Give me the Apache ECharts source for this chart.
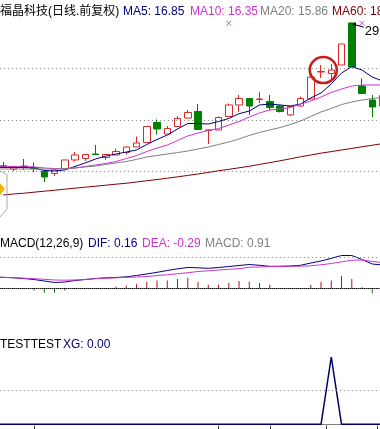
<!DOCTYPE html>
<html><head><meta charset="utf-8">
<script src="https://cdn.jsdelivr.net/npm/echarts@6/dist/echarts.min.js"></script>
<style>html,body{margin:0;padding:0;background:#fff;overflow:hidden}#c{width:380px;height:429px}</style>
</head><body><div id="c"></div>
<script>
// ---- data (index 0 is the bar just left of the window) ----
const categories = ['1','2','3','4','5','6','7','8','9','10','11','12','13','14','15','16','17','18','19','20',
  '21','22','23','24','25','26','27','28','29','30','31','32','33','34','35','36','37','38','39'];
// [open, close, low, high]
const candles = [
  [15.45,15.50,15.30,15.70],[15.55,15.50,15.34,15.92],[15.24,15.49,15.05,15.52],[15.53,15.44,15.15,16.21],
  [15.39,15.29,14.95,15.87],[15.00,14.47,13.98,15.15],[14.81,15.15,14.56,15.19],[15.29,16.12,15.29,16.12],
  [16.12,16.60,15.97,16.89],[16.26,16.65,16.02,16.70],[16.70,16.65,16.60,17.57],[16.36,16.65,16.12,16.65],
  [16.60,16.94,16.60,17.23],[16.84,17.38,16.65,17.43],[17.38,17.77,17.38,18.40],[17.82,19.37,17.82,19.37],
  [19.76,19.13,18.59,20.05],[18.64,19.17,18.64,19.42],[19.37,20.15,19.37,20.39],[20.19,20.73,20.15,20.97],
  [20.83,19.08,19.08,21.55],[18.98,19.03,17.67,19.08],[19.03,20.24,19.03,20.34],[20.34,21.46,20.34,21.60],
  [21.46,22.09,20.78,22.43],[22.09,21.36,20.49,22.14],[21.99,22.04,21.65,22.72],[21.80,21.21,20.97,22.43],
  [21.36,20.83,20.73,21.46],[20.49,21.31,20.39,21.31],[21.36,22.09,21.31,22.28],[22.04,24.17,21.99,24.22],
  [24.66,24.71,24.08,25.34],[24.51,24.85,23.79,25.44],[25.34,27.38,25.34,27.38],[29.42,25.15,25.15,29.45],
  [23.30,22.57,22.52,24.03],[21.94,21.26,20.29,22.43],[21.36,22.38,21.31,22.62]
];
const ma5 = [15.39,15.39,15.39,15.39,15.34,15.10,15.05,15.15,15.49,15.83,16.21,16.50,16.70,16.89,17.09,17.62,
  18.11,18.54,19.13,19.66,19.66,19.61,19.85,20.15,20.61,20.87,21.46,21.55,21.46,21.36,21.55,22.14,22.62,23.50,
  24.56,25.19,24.85,24.17,23.79];
const ma10 = [15.49,15.49,15.49,15.49,15.44,15.34,15.29,15.24,15.34,15.49,15.63,15.78,15.97,16.26,16.55,16.94,
  17.28,17.57,18.01,18.45,18.74,18.98,19.17,19.51,19.85,20.29,20.68,20.97,21.07,21.21,21.55,21.84,22.23,22.67,
  23.01,23.30,23.40,23.40,23.40];
const ma20 = [15.24,15.24,15.24,15.24,15.24,15.24,15.24,15.29,15.34,15.44,15.53,15.68,15.83,15.97,16.17,16.41,
  16.55,16.70,16.84,16.99,17.18,17.38,17.62,17.86,18.16,18.50,18.79,19.03,19.27,19.56,19.90,20.34,20.78,21.12,
  21.50,21.75,21.94,22.09,22.18];
const ma60 = [null,12.72,12.82,12.89,12.99,13.09,13.18,13.28,13.38,13.48,13.57,13.67,13.77,13.86,13.98,14.10,
  14.22,14.35,14.48,14.62,14.76,14.91,15.07,15.21,15.36,15.51,15.69,15.86,16.04,16.23,16.43,16.60,16.78,16.93,
  17.09,17.24,17.40,17.55,17.71];
const signalMarks = [null,null,null,null,null,null,null,null,null,null,null,null,null,null,null,null,null,null,
  null,null,null,null,null,29.39,null,null,null,null,null,null,null,null,null,null,null,null,29.39,null,null];
const macd = [-0.02,-0.02,-0.02,-0.03,-0.07,-0.14,-0.14,-0.07,-0.02,-0.01,0.01,0.01,0.05,0.09,0.13,0.21,0.25,
  0.25,0.30,0.34,0.21,0.11,0.11,0.17,0.23,0.21,0.17,0.11,0.01,0.00,0.01,0.11,0.21,0.25,0.39,0.30,0.03,-0.16,-0.20];
const dif = [0.351,0.351,0.335,0.313,0.281,0.233,0.185,0.201,0.249,0.281,0.313,0.335,0.345,0.367,0.409,0.457,
  0.511,0.569,0.623,0.665,0.655,0.639,0.665,0.696,0.728,0.760,0.735,0.703,0.703,0.712,0.735,0.808,0.872,0.958,
  1.048,1.048,0.920,0.776,0.744];
const dea = [0.351,0.351,0.339,0.323,0.307,0.288,0.265,0.259,0.265,0.281,0.307,0.323,0.335,0.351,0.361,0.377,
  0.406,0.431,0.466,0.498,0.537,0.559,0.585,0.607,0.626,0.674,0.681,0.693,0.700,0.706,0.706,0.719,0.751,0.792,
  0.847,0.898,0.904,0.856,0.824];
const xg = [0,0,0,0,0,0,0,0,0,0,0,0,0,0,0,0,0,0,0,0,0,0,0,0,0,0,0,0,0,0,0,0,0,1,0,0,0,0,0];
const priceTicks = [10,15,20,25,30];
const highLabel = '29.45';
const highIndex = 35;
const circleIdx = [32, 33];
const circlePrice = 24.85;
const dateTickCenter = [4, 22, 27];
const dateTickEdge = [33, 38];

// ---- styles ----
const RED = '#dc2828', GREEN = '#008000', NAVY = '#000080', MAG = '#cc33cc', GRAY = '#808080', MAROON = '#800000';
const L = -12.1, W = 399.75;
const FONT = '12px "Liberation Sans", Arial, sans-serif';

const chart = echarts.init(document.getElementById('c'), null, {renderer: 'canvas'});
const noAxis = {axisLine:{show:false}, axisTick:{show:false}, axisLabel:{show:false}, splitLine:{show:false}};
const sepAxis = (g) => ({type:'category', gridIndex:g, data:categories, position:'top',
  axisLine:{show:true, lineStyle:{color:GRAY, width:1}}, axisTick:{show:false}, axisLabel:{show:false}, splitLine:{show:false}});
const tickAxis = (align, list) => ({type:'category', gridIndex:2, data:categories, position:'bottom', offset:0,
  axisLine:{show:false}, axisLabel:{show:false}, splitLine:{show:false},
  axisTick:{show:true, alignWithLabel:align, length:4, interval:(i)=>list.includes(i), lineStyle:{color:'#404040'}}});
const line = (name, data, color, xi, yi, w) => ({name, type:'line', data, xAxisIndex:xi, yAxisIndex:yi,
  showSymbol:false, symbol:'none', lineStyle:{color, width:w||1}, z:4, silent:true});
const gridBox = (top, height) => ({left:L, width:W, top, height, containLabel:false, outerBoundsMode:'none'});

const option = {
  animation:false,
  backgroundColor:'#ffffff',
  grid:[gridBox(17, 206), gridBox(234.5, 101.5), gridBox(336, 89.5)],
  xAxis:[
    Object.assign({type:'category', gridIndex:0, data:categories}, noAxis),
    sepAxis(1), sepAxis(2),
    tickAxis(true, dateTickCenter),
    tickAxis(false, dateTickEdge)
  ],
  yAxis:[
    {type:'value', gridIndex:0, min:priceTicks[0], max:priceTicks[priceTicks.length-1], interval:5, scale:true,
     axisLine:{show:false}, axisTick:{show:false}, axisLabel:{show:false},
     splitLine:{show:true, lineStyle:{color:['transparent',GRAY,GRAY,GRAY,'transparent'], type:[1,3], width:1}}},
    Object.assign({type:'value', gridIndex:1, min:-1.524, max:1.719}, noAxis),
    Object.assign({type:'value', gridIndex:2, min:-0.0178, max:1.312}, noAxis)
  ],
  series:[
    {type:'candlestick', data:candles, xAxisIndex:0, yAxisIndex:0, barWidth:7, z:2, silent:true,
     itemStyle:{color:'transparent', color0:GREEN, borderColor:RED, borderColor0:GREEN, borderWidth:1}},
    line('MA5', ma5, NAVY, 0, 0),
    line('MA10', ma10, MAG, 0, 0),
    line('MA20', ma20, GRAY, 0, 0),
    line('MA60', ma60, MAROON, 0, 0),
    {type:'scatter', data:signalMarks, xAxisIndex:0, yAxisIndex:0, symbol:'path://M0,0L10,10M10,0L0,10', symbolSize:5,
     itemStyle:{color:'none', borderColor:'#d020d0', borderWidth:1}, z:5, silent:true},
    {type:'bar', data:macd, xAxisIndex:1, yAxisIndex:1, barWidth:1, silent:true, z:2,
     itemStyle:{color:(p)=>p.value>=0?'#b41414':'#007a00'},
     markLine:{silent:true, symbol:'none', label:{show:false}, animation:false,
       data:[{yAxis:0, lineStyle:{color:'#000000', type:[1,1], width:1}},
             {yAxis:1, lineStyle:{color:GRAY, type:[1,3], width:1}}]}},
    line('DIF', dif, NAVY, 1, 1),
    line('DEA', dea, MAG, 1, 1),
    Object.assign(line('XG', xg, '#000060', 2, 2, 1.5), {
     markLine:{silent:true, symbol:'none', label:{show:false}, animation:false,
       data:[{yAxis:0.5, lineStyle:{color:GRAY, type:[1,3], width:1}}]}})
  ]
};
chart.setOption(option);

// annotations anchored through the chart's own scales
const hp = chart.convertToPixel({gridIndex:0}, [categories[highIndex], candles[highIndex][3]]);
const c1 = chart.convertToPixel({gridIndex:0}, [categories[circleIdx[0]], circlePrice]);
const c2 = chart.convertToPixel({gridIndex:0}, [categories[circleIdx[1]], circlePrice]);
const cx = c1[0] + 0.22*(c2[0]-c1[0]);

const txt = (x, y, text, fill, font) => ({type:'text', x, y, silent:true, z:100,
  style:{text, fill, font:font||FONT, verticalAlign:'middle', align:'left'}});

chart.setOption({graphic:[
  txt(0, 11.5, '福晶科技(日线.前复权)', '#000', '12px "Liberation Sans", "Noto Sans CJK SC", sans-serif'),
  txt(123, 11.5, 'MA5: 16.85', NAVY),
  txt(190, 11.5, 'MA10: 16.35', MAG),
  txt(260, 11.5, 'MA20: 15.86', GRAY),
  txt(332, 11.5, 'MA60: 18.06', MAROON),
  txt(0, 243.5, 'MACD(12,26,9)', '#000'),
  txt(88, 243.5, 'DIF: 0.16', NAVY),
  txt(142, 243.5, 'DEA: -0.29', MAG),
  txt(205, 243.5, 'MACD: 0.91', GRAY),
  txt(0, 344.5, 'TESTTEST', '#000'),
  txt(63, 344.5, 'XG: 0.00', '#000060'),
  {type:'polygon', silent:true, z:100, shape:{points:[[hp[0]+0.5,hp[1]+1.5],[hp[0]+4,hp[1]-0.5],[hp[0]+4,hp[1]+3.5]]}, style:{fill:'#000'}},
  {type:'line', silent:true, z:100, shape:{x1:hp[0]+3, y1:hp[1]+2, x2:hp[0]+12, y2:hp[1]+4.5}, style:{stroke:'#000', lineWidth:1}},
  txt(hp[0]+13, hp[1]+9, highLabel, '#000', '13px "Liberation Sans", Arial, sans-serif'),
  {type:'ellipse', silent:true, z:100, shape:{cx:cx, cy:c1[1], rx:13.5, ry:13}, style:{fill:'none', stroke:'#c42020', lineWidth:2.6}},
  {type:'polyline', silent:true, z:100, shape:{points:[[1,171],[7,175],[7,209],[0,217]]}, style:{stroke:'#a8a8a8', lineWidth:1, fill:'none'}},
  {type:'polygon', silent:true, z:100, shape:{points:[[0,183],[5,189],[0,195],[-5,189]]}, style:{fill:'#f5b400'}}
]});
</script>
</body></html>
